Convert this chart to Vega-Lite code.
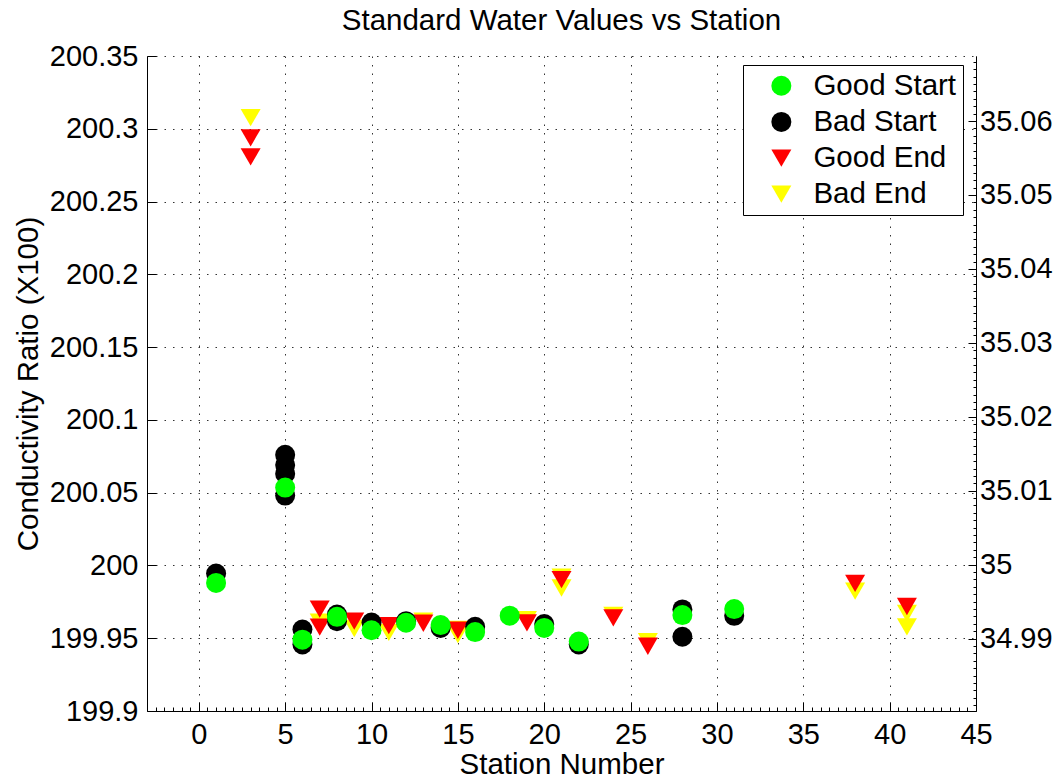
{
  "$schema": "https://vega.github.io/schema/vega-lite/v6.json",
  "width": 829,
  "height": 655,
  "autosize": "none",
  "padding": {"left": 147, "top": 56, "right": 83, "bottom": 65},
  "background": "white",
  "title": {"text": "Standard Water Values vs Station", "font": "Liberation Sans", "fontSize": 29.5, "fontWeight": "normal", "color": "black", "anchor": "middle", "frame": "group", "offset": 6},
  "config": {"view": {"stroke": null}, "font": "Liberation Sans"},
  "datasets": {
    "obs": [
      {"station": 3, "ratio": 200.3077, "type": "Bad End"},
      {"station": 7, "ratio": 199.961, "type": "Bad End"},
      {"station": 9, "ratio": 199.9567, "type": "Bad End"},
      {"station": 11, "ratio": 199.954, "type": "Bad End"},
      {"station": 13, "ratio": 199.9617, "type": "Bad End"},
      {"station": 15, "ratio": 199.956, "type": "Bad End"},
      {"station": 15, "ratio": 199.9525, "type": "Bad End"},
      {"station": 19, "ratio": 199.9628, "type": "Bad End"},
      {"station": 21, "ratio": 199.992, "type": "Bad End"},
      {"station": 21, "ratio": 199.9845, "type": "Bad End"},
      {"station": 24, "ratio": 199.9657, "type": "Bad End"},
      {"station": 26, "ratio": 199.9476, "type": "Bad End"},
      {"station": 38, "ratio": 199.9824, "type": "Bad End"},
      {"station": 41, "ratio": 199.967, "type": "Bad End"},
      {"station": 41, "ratio": 199.9578, "type": "Bad End"},
      {"station": 3, "ratio": 200.2938, "type": "Good End"},
      {"station": 3, "ratio": 200.2807, "type": "Good End"},
      {"station": 7, "ratio": 199.97, "type": "Good End"},
      {"station": 7, "ratio": 199.9576, "type": "Good End"},
      {"station": 9, "ratio": 199.9617, "type": "Good End"},
      {"station": 11, "ratio": 199.9586, "type": "Good End"},
      {"station": 13, "ratio": 199.9603, "type": "Good End"},
      {"station": 15, "ratio": 199.9555, "type": "Good End"},
      {"station": 19, "ratio": 199.9605, "type": "Good End"},
      {"station": 21, "ratio": 199.9903, "type": "Good End"},
      {"station": 24, "ratio": 199.964, "type": "Good End"},
      {"station": 26, "ratio": 199.9445, "type": "Good End"},
      {"station": 38, "ratio": 199.9877, "type": "Good End"},
      {"station": 41, "ratio": 199.9718, "type": "Good End"},
      {"station": 1, "ratio": 199.9945, "type": "Bad Start"},
      {"station": 5, "ratio": 200.076, "type": "Bad Start"},
      {"station": 5, "ratio": 200.069, "type": "Bad Start"},
      {"station": 5, "ratio": 200.063, "type": "Bad Start"},
      {"station": 5, "ratio": 200.048, "type": "Bad Start"},
      {"station": 6, "ratio": 199.956, "type": "Bad Start"},
      {"station": 6, "ratio": 199.9457, "type": "Bad Start"},
      {"station": 8, "ratio": 199.9663, "type": "Bad Start"},
      {"station": 8, "ratio": 199.9617, "type": "Bad Start"},
      {"station": 10, "ratio": 199.9608, "type": "Bad Start"},
      {"station": 12, "ratio": 199.9617, "type": "Bad Start"},
      {"station": 14, "ratio": 199.9571, "type": "Bad Start"},
      {"station": 16, "ratio": 199.9578, "type": "Bad Start"},
      {"station": 20, "ratio": 199.9597, "type": "Bad Start"},
      {"station": 22, "ratio": 199.9457, "type": "Bad Start"},
      {"station": 28, "ratio": 199.9698, "type": "Bad Start"},
      {"station": 28, "ratio": 199.951, "type": "Bad Start"},
      {"station": 31, "ratio": 199.9654, "type": "Bad Start"},
      {"station": 1, "ratio": 199.988, "type": "Good Start"},
      {"station": 5, "ratio": 200.0535, "type": "Good Start"},
      {"station": 6, "ratio": 199.949, "type": "Good Start"},
      {"station": 8, "ratio": 199.9647, "type": "Good Start"},
      {"station": 10, "ratio": 199.9555, "type": "Good Start"},
      {"station": 12, "ratio": 199.9606, "type": "Good Start"},
      {"station": 14, "ratio": 199.959, "type": "Good Start"},
      {"station": 16, "ratio": 199.9542, "type": "Good Start"},
      {"station": 18, "ratio": 199.9655, "type": "Good Start"},
      {"station": 20, "ratio": 199.9571, "type": "Good Start"},
      {"station": 22, "ratio": 199.9477, "type": "Good Start"},
      {"station": 28, "ratio": 199.9659, "type": "Good Start"},
      {"station": 31, "ratio": 199.97, "type": "Good Start"}
    ],
    "salinityAxis": [
      {"salinity": 34.99},
      {"salinity": 35.06}
    ]
  },
  "layer": [
    {
      "data": {"name": "obs"},
      "mark": {"type": "point", "filled": true, "opacity": 1, "strokeWidth": 0},
      "encoding": {
        "x": {
          "field": "station", "type": "quantitative",
          "scale": {"domain": [-3, 45], "nice": false, "zero": false},
          "axis": {
            "orient": "bottom",
            "values": [-2.5,-2,-1.5,-1,-0.5,0,0.5,1,1.5,2,2.5,3,3.5,4,4.5,5,5.5,6,6.5,7,7.5,8,8.5,9,9.5,10,10.5,11,11.5,12,12.5,13,13.5,14,14.5,15,15.5,16,16.5,17,17.5,18,18.5,19,19.5,20,20.5,21,21.5,22,22.5,23,23.5,24,24.5,25,25.5,26,26.5,27,27.5,28,28.5,29,29.5,30,30.5,31,31.5,32,32.5,33,33.5,34,34.5,35,35.5,36,36.5,37,37.5,38,38.5,39,39.5,40,40.5,41,41.5,42,42.5,43,43.5,44,44.5,45],
            "labelExpr": "datum.value % 5 === 0 ? format(datum.value, 'd') : ''",
            "labelFont": "Liberation Sans", "labelFontSize": 29, "labelColor": "black",
            "labelBaseline": "alphabetic", "labelPadding": 41.6,
            "labelFlush": false, "labelOverlap": false, "labelBound": false,
            "tickSize": {"condition": {"test": "datum.value % 5 === 0", "value": -9}, "value": -4},
            "tickColor": "black", "tickWidth": 1,
            "domainColor": "black", "domainWidth": 1,
            "grid": true, "gridColor": "#333333", "gridDash": [1.5, 7], "gridWidth": 1,
            "gridOpacity": {"condition": {"test": "datum.value % 5 === 0", "value": 1}, "value": 0},
            "title": "Station Number", "titleFont": "Liberation Sans", "titleFontSize": 29.5, "titleFontWeight": "normal", "titleColor": "black",
            "titleBaseline": "alphabetic", "titleY": 62
          }
        },
        "y": {
          "field": "ratio", "type": "quantitative",
          "scale": {"domain": [199.9, 200.35], "nice": false, "zero": false},
          "axis": {
            "orient": "left",
            "values": [199.9, 199.95, 200, 200.05, 200.1, 200.15, 200.2, 200.25, 200.3, 200.35],
            "format": ".2~f",
            "labelFont": "Liberation Sans", "labelFontSize": 29, "labelColor": "black",
            "labelPadding": 18, "labelFlush": false, "labelOverlap": false, "labelBound": false,
            "tickSize": -9, "tickColor": "black",
            "domainColor": "black", "domainWidth": 1,
            "grid": true, "gridColor": "#333333", "gridDash": [1.5, 7], "gridWidth": 1,
            "title": "Conductivity Ratio (X100)", "titleFont": "Liberation Sans", "titleFontSize": 29.5, "titleFontWeight": "normal", "titleColor": "black",
            "titleBaseline": "alphabetic", "titleX": -110
          }
        },
        "color": {
          "field": "type", "type": "nominal",
          "scale": {"domain": ["Good Start", "Bad Start", "Good End", "Bad End"], "range": ["#00ff00", "#000000", "#ff0000", "#ffff00"]},
          "legend": {"title": null, "orient": "none", "legendX": 596, "legendY": 9, "padding": 6, "strokeColor": "black", "fillColor": "white", "labelFont": "Liberation Sans", "labelFontSize": 29.5, "labelColor": "black", "rowPadding": 5.15, "symbolOffset": 17.6, "labelOffset": 17.3, "symbolStrokeWidth": 0, "symbolOpacity": 1}
        },
        "shape": {
          "field": "type", "type": "nominal",
          "scale": {"domain": ["Good Start", "Bad Start", "Good End", "Bad End"], "range": ["circle", "circle", "triangle-down", "triangle-down"]},
          "legend": {"title": null, "orient": "none", "legendX": 596, "legendY": 9, "padding": 6, "strokeColor": "black", "fillColor": "white", "labelFont": "Liberation Sans", "labelFontSize": 29.5, "labelColor": "black", "rowPadding": 5.15, "symbolOffset": 17.6, "labelOffset": 17.3, "symbolStrokeWidth": 0, "symbolOpacity": 1}
        },
        "size": {
          "field": "type", "type": "nominal",
          "scale": {"domain": ["Good Start", "Bad Start", "Good End", "Bad End"], "range": [400, 400, 515, 515]},
          "legend": {"title": null, "orient": "none", "legendX": 596, "legendY": 9, "padding": 6, "strokeColor": "black", "fillColor": "white", "labelFont": "Liberation Sans", "labelFontSize": 29.5, "labelColor": "black", "rowPadding": 5.15, "symbolOffset": 17.6, "labelOffset": 17.3, "symbolStrokeWidth": 0, "symbolOpacity": 1}
        }
      }
    },
    {
      "data": {"name": "salinityAxis"},
      "mark": {"type": "point", "opacity": 0},
      "encoding": {
        "y": {
          "field": "salinity", "type": "quantitative",
          "scale": {"domain": [34.9802, 35.0688], "nice": false, "zero": false},
          "axis": {
            "orient": "right",
            "values": [34.981,34.982,34.983,34.984,34.985,34.986,34.987,34.988,34.989,34.99,34.991,34.992,34.993,34.994,34.995,34.996,34.997,34.998,34.999,35,35.001,35.002,35.003,35.004,35.005,35.006,35.007,35.008,35.009,35.01,35.011,35.012,35.013,35.014,35.015,35.016,35.017,35.018,35.019,35.02,35.021,35.022,35.023,35.024,35.025,35.026,35.027,35.028,35.029,35.03,35.031,35.032,35.033,35.034,35.035,35.036,35.037,35.038,35.039,35.04,35.041,35.042,35.043,35.044,35.045,35.046,35.047,35.048,35.049,35.05,35.051,35.052,35.053,35.054,35.055,35.056,35.057,35.058,35.059,35.06,35.061,35.062,35.063,35.064,35.065,35.066,35.067,35.068],
            "labelExpr": "abs(round(datum.value * 100) - datum.value * 100) < 0.01 ? format(datum.value, '.2~f') : ''",
            "labelFont": "Liberation Sans", "labelFontSize": 29, "labelColor": "black",
            "labelPadding": 11.5, "labelFlush": false, "labelOverlap": false, "labelBound": false,
            "tickSize": {"condition": {"test": "abs(round(datum.value * 100) - datum.value * 100) < 0.01", "value": -8}, "value": -3},
            "tickColor": "black",
            "domainColor": "black", "domainWidth": 1,
            "grid": false,
            "title": null
          }
        }
      }
    }
  ],
  "resolve": {"scale": {"y": "independent"}}
}
